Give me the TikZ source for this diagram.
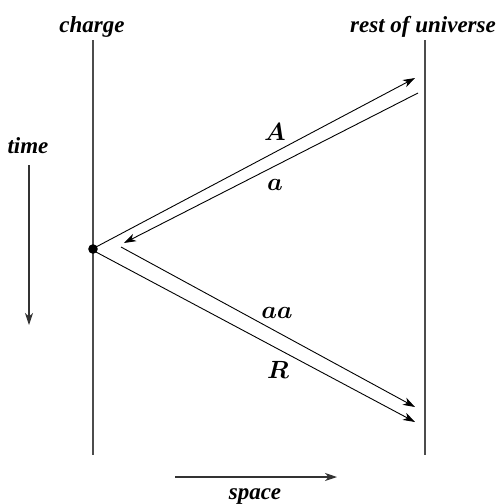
\documentclass[tikz,border=0pt]{standalone}
\usepackage{fontspec}
\setmainfont{Liberation Serif}
\usepackage{bm}
\usetikzlibrary{arrows.meta}
\begin{document}
\begin{tikzpicture}[x=1pt,y=-1pt,
  lbl/.style={font=\fontsize{23}{26}\selectfont\bfseries\itshape, inner sep=0pt, anchor=base},
  mlbl/.style={font=\fontsize{23}{26}\selectfont, inner sep=0pt},
  world/.style={draw=black!70, line width=1.3pt},
  ray/.style={draw=black, line width=0.9pt, -{Stealth[length=12pt,width=8pt,inset=3.5pt]}},
  axis/.style={draw=black!80, line width=1.1pt, -{Stealth[length=12pt,width=8pt,inset=3.5pt]}},
]
\useasboundingbox (0,0) rectangle (502,504);
% world lines
\coordinate (ctop) at (93,40);
\coordinate (cbot) at (93,455);
\coordinate (utop) at (425,40);
\coordinate (ubot) at (425,455);
\draw[world] (ctop) -- (cbot);
\draw[world] (utop) -- (ubot);
\node[lbl] (charge) at (92,32) {charge};
\node[lbl] (rest) at (423,32) {rest of universe};
% event
\coordinate (ev) at (93,249);
\fill (ev) circle (4.8pt);
% rays
\coordinate (A0) at (96,247);
\coordinate (A1) at (415,78);
\coordinate (a0) at (418,93);
\coordinate (a1) at (124,243);
\coordinate (aa0) at (121,247);
\coordinate (aa1) at (415,407);
\coordinate (R0) at (96,252);
\coordinate (R1) at (415,422);
\draw[ray] (A0) -- (A1);
\draw[ray] (a0) -- (a1);
\draw[ray] (aa0) -- (aa1);
\draw[ray] (R0) -- (R1);
\node[mlbl] (lA) at (275,132) {$\bm{A}$};
\node[mlbl] (la) at (275,185) {$\bm{a}$};
\node[mlbl] (laa) at (277,313) {$\bm{aa}$};
\node[mlbl] (lR) at (278,370) {$\bm{R}$};
% time axis
\node[lbl] (time) at (28,153) {time};
\coordinate (t0) at (29,165);
\coordinate (t1) at (29,325);
\draw[axis] (t0) -- (t1);
% space axis
\coordinate (s0) at (175,477);
\coordinate (s1) at (337,477);
\draw[axis] (s0) -- (s1);
\node[lbl] (space) at (255,499) {space};
\end{tikzpicture}
\end{document}
